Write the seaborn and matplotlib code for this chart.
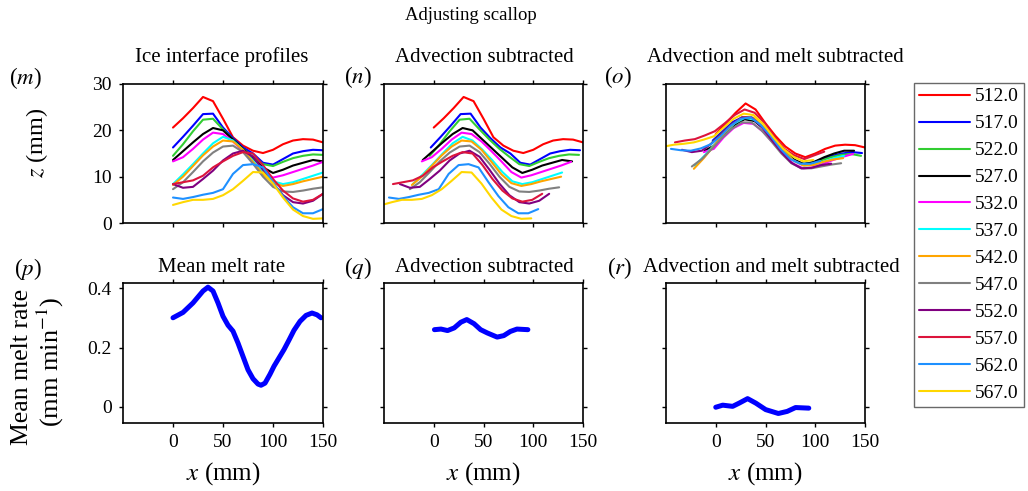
import numpy as np
import pandas as pd
import matplotlib
matplotlib.use("Agg")
import matplotlib.pyplot as plt
import seaborn as sns

# ---------------- data ----------------
times = ["512.0", "517.0", "522.0", "527.0", "532.0", "537.0",
         "542.0", "547.0", "552.0", "557.0", "562.0", "567.0"]
colors = ["#ff0000", "#0000ff", "#32cd32", "#000000", "#ff00ff", "#00ffff",
          "#ffa500", "#808080", "#800080", "#dc143c", "#1e90ff", "#ffd700"]

x_grid = [0, 10, 20, 30, 40, 50, 60, 70, 80, 90, 100, 110, 120, 130, 140, 150]

# horizontal advection offset of each profile (mm)
advection_shift = [0, -3, -4, -11, -12, -21, -22, -24, -34, -41, -45, -52]

# (m) Ice interface profiles z (mm) at x_grid
z_512 = [20.6, 22.6, 24.8, 27.2, 26.3, 22.5, 18.5, 16.7, 15.6, 15.1, 15.8, 17.0, 17.8, 18.1, 18.0, 17.4]
z_517 = [16.3, 18.6, 21.0, 23.5, 23.6, 20.6, 18.3, 16.3, 15.0, 13.0, 12.6, 13.8, 15.0, 15.5, 15.8, 15.7]
z_522 = [14.5, 17.0, 19.8, 22.3, 22.5, 20.2, 18.0, 16.0, 14.3, 12.7, 12.3, 13.2, 14.0, 14.5, 14.8, 14.7]
z_527 = [13.6, 15.5, 17.4, 19.2, 20.5, 20.0, 18.0, 16.0, 14.0, 12.0, 10.8, 11.5, 12.4, 13.0, 13.6, 13.3]
z_532 = [13.3, 14.2, 16.0, 18.0, 19.5, 19.2, 17.6, 15.5, 13.3, 11.0, 9.8, 10.3, 11.0, 11.7, 12.4, 13.2]
z_537 = [8.4, 10.5, 12.7, 15.0, 17.2, 18.6, 17.8, 15.8, 13.5, 11.0, 9.0, 8.4, 8.8, 9.5, 10.2, 10.9]
z_542 = [8.2, 10.0, 12.3, 14.6, 16.5, 17.8, 17.6, 15.8, 13.2, 10.5, 8.6, 8.0, 8.4, 9.0, 9.5, 10.0]
z_547 = [7.3, 8.8, 11.0, 13.3, 15.2, 16.5, 16.7, 15.3, 12.8, 10.0, 7.8, 6.8, 6.7, 7.0, 7.4, 7.7]
z_552 = [8.4, 7.6, 7.8, 9.5, 11.3, 13.5, 15.0, 15.6, 14.3, 11.5, 8.5, 6.0, 4.5, 4.2, 4.8, 6.3]
z_557 = [8.4, 8.8, 9.2, 10.2, 12.0, 13.3, 14.5, 15.3, 15.0, 12.5, 9.5, 7.0, 5.3, 4.6, 5.0, 6.3]
z_562 = [5.5, 5.2, 5.6, 6.1, 6.5, 7.3, 10.6, 12.5, 12.7, 12.0, 8.8, 5.8, 3.4, 2.1, 2.1, 3.0]
z_567 = [3.9, 4.5, 5.0, 5.0, 5.2, 6.0, 7.3, 9.1, 11.0, 10.9, 8.5, 5.5, 2.9, 1.5, 0.9, 1.0]

# (o) Advection and melt subtracted z (mm), at x_grid + advection_shift
zr_512 = [19.2, 21.5, 23.8, 25.8, 24.5, 21.5, 18.8, 16.5, 15.0, 14.2, 15.0, 16.0, 16.7, 16.9, 16.8, 16.3]
zr_517 = [17.8, 19.8, 21.8, 22.8, 22.6, 20.8, 18.3, 15.8, 13.8, 12.8, 13.0, 13.8, 14.5, 15.0, 15.3, 15.1]
zr_522 = [17.3, 19.3, 21.2, 22.5, 22.5, 21.0, 18.5, 16.0, 14.0, 12.8, 12.8, 13.5, 14.2, 14.7, 14.9, 14.5]
zr_527 = [15.6, 16.8, 19.0, 21.2, 22.4, 22.0, 20.2, 17.8, 15.5, 13.6, 12.7, 13.2, 14.2, 15.0, 15.6, 15.6]
zr_532 = [15.3, 16.0, 18.5, 20.5, 21.6, 21.4, 19.6, 17.2, 14.8, 12.8, 11.8, 12.0, 12.8, 13.6, 14.3, 14.9]
zr_537 = [12.4, 14.6, 17.0, 19.5, 21.5, 22.7, 22.3, 20.3, 17.8, 15.3, 13.3, 12.4, 12.6, 13.3, 14.0, 14.5]
zr_542 = [11.7, 14.0, 16.6, 19.3, 21.5, 22.9, 22.7, 20.7, 18.2, 15.6, 13.5, 12.4, 12.5, 13.2, 13.7, 14.0]
zr_547 = [12.2, 13.8, 16.0, 18.3, 20.3, 21.7, 21.7, 20.0, 17.6, 15.0, 12.9, 11.8, 11.8, 12.2, 12.6, 12.9]
zr_552 = [15.8, 15.3, 15.6, 17.2, 19.3, 21.3, 22.8, 22.8, 20.8, 18.0, 15.3, 13.0, 11.8, 11.9, 12.5, 12.8]
zr_557 = [17.4, 17.8, 18.1, 18.9, 19.8, 21.5, 23.3, 24.5, 23.8, 21.6, 18.6, 16.0, 14.6, 13.8, 14.6, 15.4]
zr_562 = [16.0, 15.7, 15.6, 16.1, 17.0, 18.8, 21.0, 22.5, 22.8, 21.2, 18.8, 16.0, 13.8, 12.8, 12.8, 13.4]
zr_567 = [16.5, 16.9, 17.1, 17.4, 18.0, 18.7, 20.6, 22.5, 23.6, 23.3, 21.3, 18.5, 16.0, 14.3, 13.3, 13.6]

# (p) mean melt rate (mm/min)
melt_x = [0, 10, 20, 30, 35, 40, 45, 50, 55, 60, 65, 70, 75, 80, 85, 88, 92, 97,
          101, 106, 111, 116, 121, 127, 133, 139, 144, 148]
melt_y = [0.30, 0.318, 0.35, 0.39, 0.403, 0.39, 0.35, 0.305, 0.275, 0.255, 0.215,
          0.17, 0.125, 0.095, 0.077, 0.073, 0.08, 0.11, 0.137, 0.165, 0.193, 0.225,
          0.258, 0.288, 0.308, 0.316, 0.31, 0.30]
# (q) advection subtracted
melt_adv_x = [0.7, 7.3, 13.9, 20.6, 27.2, 33.2, 40.5, 47.1, 53.8, 63.7, 70.4, 77.0, 83.6, 94.6]
melt_adv_y = [0.26, 0.262, 0.257, 0.266, 0.285, 0.294, 0.28, 0.26, 0.249, 0.235, 0.24, 0.254, 0.262, 0.26]
# (r) advection and melt subtracted
melt_res_x = [0, 7, 17, 23.6, 32, 40.2, 50.2, 62.9, 71.8, 80.2, 93.5]
melt_res_y = [-0.001, 0.006, 0.002, 0.013, 0.028, 0.013, -0.009, -0.022, -0.015, -0.002, -0.004]

profiles = [z_512, z_517, z_522, z_527, z_532, z_537, z_542, z_547, z_552, z_557, z_562, z_567]
profiles_res = [zr_512, zr_517, zr_522, zr_527, zr_532, zr_537, zr_542, zr_547, zr_552, zr_557, zr_562, zr_567]

rows = []
for t, zl, zr, s in zip(times, profiles, profiles_res, advection_shift):
    for i, xg in enumerate(x_grid):
        rows.append({"time": t, "order": i, "x": xg, "x_adv": xg + s,
                     "z": zl[i], "z_res": zr[i]})
df = pd.DataFrame(rows)
palette = dict(zip(times, colors))

# ---------------- style ----------------
sns.set_style("ticks")
plt.rcParams["font.family"] = ["Liberation Serif", "DejaVu Serif"]
plt.rcParams["mathtext.fontset"] = "stix"
plt.rcParams["axes.edgecolor"] = "black"
plt.rcParams["xtick.color"] = "black"
plt.rcParams["ytick.color"] = "black"
plt.rcParams["text.color"] = "black"

W, H = 1028, 491
fig = plt.figure(figsize=(W / 100, H / 100), dpi=100)


def px_axes(x0, y0, x1, y1):
    return fig.add_axes([x0 / W, 1 - y1 / H, (x1 - x0) / W, (y1 - y0) / H])


cols = [(123, 323), (384, 583), (666, 865)]
top_axes = [px_axes(c0, 84, c1, 223) for c0, c1 in cols]
bot_axes = [px_axes(c0, 283, c1, 423) for c0, c1 in cols]

lw_prof = 1.5
sns.lineplot(data=df, x="x", y="z", hue="time", hue_order=times, palette=palette,
             units="time", estimator=None, sort=False, lw=lw_prof, ax=top_axes[0])
handles, labels = top_axes[0].get_legend_handles_labels()
top_axes[0].get_legend().remove()
sns.lineplot(data=df, x="x_adv", y="z", hue="time", hue_order=times, palette=palette,
             units="time", estimator=None, sort=False, lw=lw_prof, ax=top_axes[1], legend=False)
sns.lineplot(data=df, x="x_adv", y="z_res", hue="time", hue_order=times, palette=palette,
             units="time", estimator=None, sort=False, lw=lw_prof, ax=top_axes[2], legend=False)

for ax, (mx, my) in zip(bot_axes, [(melt_x, melt_y), (melt_adv_x, melt_adv_y), (melt_res_x, melt_res_y)]):
    sns.lineplot(x=mx, y=my, color="#0000ff", lw=3.6, sort=False, ax=ax)

for j, ax in enumerate(top_axes + bot_axes):
    ax.set_xlim(-50, 150)
    ax.set_xticks([0, 50, 100, 150])
    ax.set_xlabel("")
    ax.set_ylabel("")
    ax.tick_params(direction="out", top=True, right=True, length=3.2, width=1,
                   labelsize=14, pad=5)
    for sp in ax.spines.values():
        sp.set_linewidth(1.2)
        sp.set_color("black")

for j, ax in enumerate(top_axes):
    ax.set_ylim(0, 30)
    ax.set_yticks([0, 10, 20, 30])
    ax.tick_params(labelbottom=False)
    if j > 0:
        ax.tick_params(labelleft=False)

for j, ax in enumerate(bot_axes):
    ax.set_ylim(-0.054, 0.417)
    ax.set_yticks([0, 0.2, 0.4])
    ax.set_yticklabels(["0", "0.2", "0.4"])
    if j > 0:
        ax.tick_params(labelleft=False)


def ftext(x, y, s, **kw):
    fig.text(x / W, 1 - y / H, s, ha="center", va="center", **kw)


ftext(471, 16, "Adjusting scallop", fontsize=13.5)
ftext(222, 57, "Ice interface profiles", fontsize=15)
ftext(484, 57, "Advection subtracted", fontsize=15)
ftext(775, 57, "Advection and melt subtracted", fontsize=15)
ftext(222, 267, "Mean melt rate", fontsize=15)
ftext(484, 267, "Advection subtracted", fontsize=15)
ftext(771, 267, "Advection and melt subtracted", fontsize=15)

ftext(25, 78, r"($m$)", fontsize=16.5)
ftext(358, 77, r"($n$)", fontsize=16.5)
ftext(618, 77, r"($o$)", fontsize=16.5)
ftext(28, 269, r"($p$)", fontsize=16.5)
ftext(358, 268, r"($q$)", fontsize=16.5)
ftext(620, 268, r"($r$)", fontsize=16.5)

ftext(37, 143, r"$z$ (mm)", fontsize=17.5, rotation=90)
ftext(22, 367, "Mean melt rate", fontsize=18.5, rotation=90)
ftext(50, 362, r"(mm min$^{-1}$)", fontsize=19, rotation=90)
for c0, c1 in cols:
    ftext((c0 + c1) / 2, 474, r"$x$ (mm)", fontsize=18)

leg = fig.legend(handles, labels, loc="upper left",
                 bbox_to_anchor=(914 / W, 1 - 83 / H), borderaxespad=0,
                 fontsize=14, handlelength=2.63, handletextpad=0.26,
                 labelspacing=0.48, borderpad=0.25, frameon=True, fancybox=False)
leg.get_frame().set_edgecolor("#444444")
leg.get_frame().set_linewidth(1.0)

fig.savefig("out.png", dpi=100)
